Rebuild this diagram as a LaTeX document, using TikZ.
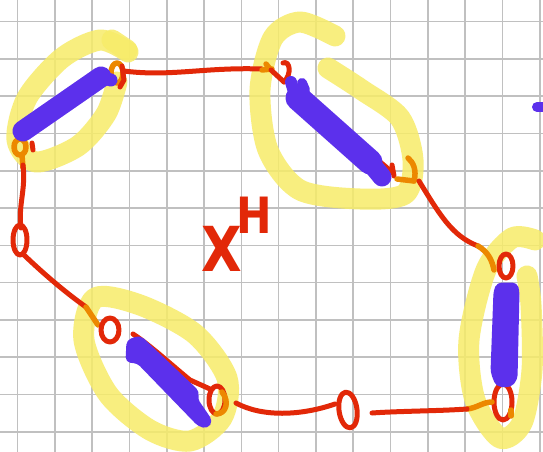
\documentclass[tikz,border=0pt]{standalone}
\usepackage{fontspec}
\newfontfamily\handfont{DejaVu Sans}
\definecolor{hlyellow}{RGB}{247,236,105}
\definecolor{pen}{RGB}{226,40,8}
\definecolor{orng}{RGB}{236,136,0}
\definecolor{purp}{RGB}{92,48,236}
\definecolor{gridgray}{RGB}{192,192,192}
\tikzset{
  gridline/.style={draw=gridgray, line width=1.6pt},
  hl/.style={draw=hlyellow, line width=21pt, draw opacity=0.85},
  redpen/.style={draw=pen, line width=5pt},
  orpen/.style={draw=orng, line width=5.5pt},
  bar/.style={draw=purp, line width=20pt},
  barfill/.style={fill=purp, draw=purp, line width=3pt, rounded corners=4pt},
  handtext/.style={text=pen, inner sep=0pt}
}
\begin{document}
\begin{tikzpicture}[x=1pt,y=-1pt,line cap=round,line join=round]
\useasboundingbox (0,0) rectangle (543,452);
\fill[white] (0,0) rectangle (543,452);
% grid
\foreach \i in {0,...,14} \draw[gridline] ({17.5+37.3*\i},0) -- ({17.5+37.3*\i},452);
\foreach \j in {0,...,11} \draw[gridline] (0,{21.5+37.3*\j}) -- (543,{21.5+37.3*\j});
% yellow highlights
\draw[hl] plot[smooth] coordinates {(128,52) (100,40) (62,58) (27,98) (17,140) (36,162) (78,146) (106,114) (117,82)};
\draw[hl] (112,40) -- (127,50);
\draw[hl] plot[smooth] coordinates {(335,36) (300,22) (273,38) (260,90) (268,150) (300,190) (360,199) (405,194) (413,160) (400,118) (362,90) (328,68)};
\draw[hl] plot[smooth cycle] coordinates {(95,298) (84,340) (108,394) (150,430) (190,441) (222,418) (227,378) (195,334) (140,305)};
\draw[hl] plot[smooth] coordinates {(535,240) (512,238) (486,270) (469,340) (475,400) (500,438) (522,423) (532,370) (531,305) (527,276)};
% red and orange pen strokes
% top-left group
\draw[redpen] (32,143) -- (33,150);
\draw[orpen] (20,147) ellipse [x radius=6pt, y radius=8pt];
\draw[orpen] (22,155) -- (23,168);
\draw[redpen] (23,165) .. controls (26,190) and (18,205) .. (21,228);
\draw[redpen] (20,240) ellipse [x radius=7pt, y radius=15pt];
\draw[redpen] (24,255) .. controls (45,275) and (65,292) .. (86,307);
\draw[orpen] (86,307) -- (98,325);
\draw[redpen] (110,330) ellipse [x radius=9pt, y radius=12pt];
% top line
\draw[orpen] (117,73) ellipse [x radius=6pt, y radius=10pt];
\draw[redpen] (122,66) -- (124,80) -- (120,87);
\draw[redpen] (124,71) .. controls (170,77) and (205,67) .. (262,69);
\draw[orpen] (262,70) -- (272,69);
\draw[orpen] (266,64) -- (270,69);
\draw[redpen] (271,70) -- (284,82);
\draw[redpen] (284,82) .. controls (292,74) and (290,60) .. (283,63);
% top-right group
\draw[redpen] (292,88) -- (392,172);
\draw[redpen] (392,165) -- (394,176);
\draw[orpen] (397,179) -- (414,181);
\draw[orpen] (414,181) .. controls (417,170) and (413,162) .. (408,158);
\draw[redpen] (419,181) .. controls (440,215) and (452,236) .. (478,246);
\draw[orpen] (478,246) .. controls (488,252) and (492,260) .. (494,270);
\draw[redpen] (506,266) ellipse [x radius=7pt, y radius=12pt];
% bottom-right
\draw[redpen] (503,402) ellipse [x radius=9pt, y radius=18pt];
\draw[orpen] (511,410) -- (511,416);
\draw[orpen] (467,409) .. controls (477,408) and (483,402) .. (492,402);
\draw[redpen] (372,413) .. controls (400,411) and (440,411) .. (467,409);
\draw[redpen, rotate around={8:(348,410)}] (348,410) ellipse [x radius=9pt, y radius=18pt];
\draw[redpen] (236,403) .. controls (262,417) and (300,416) .. (335,404);
% bottom-left
\draw[redpen] (133,334) .. controls (150,345) and (175,368) .. (190,380) -- (210,389);
\draw[redpen] (217,400) ellipse [x radius=8pt, y radius=14pt];
\draw[orpen] (222,392) .. controls (230,402) and (226,414) .. (216,414);
% purple bars
\draw[bar, line width=21pt] (23,131) -- (101,77);
\draw[bar, line width=13pt] (100,77) -- (111,80);
\draw[bar, line width=25pt] (298,98) -- (370,162);
\draw[bar, line width=19pt] (368,160) -- (382,177);
\draw[bar, line width=12pt] (291,82) -- (294,92);
\draw[bar, line width=10pt] (302,83) -- (305,90);
\fill[barfill] (128,341) -- (140,337) -- (198,392) -- (196,399) -- (211,421) -- (207,427) -- (199,425) -- (138,362) -- (127,361) -- cycle;
\fill[barfill] (498,284) -- (516,284) -- (518,291) -- (516,379) -- (510,386) -- (497,385) -- (492,372) -- (495,291) -- cycle;
\draw[bar, line width=10pt] (537,107) -- (548,107);
% text
\node[handtext, font=\handfont\bfseries\fontsize{62}{62}\selectfont, xscale=0.85] (xlab) at (222,249) {X};
\node[handtext, font=\handfont\bfseries\fontsize{50}{50}\selectfont, xscale=0.85] (hlab) at (254,215) {H};
\end{tikzpicture}
\end{document}
